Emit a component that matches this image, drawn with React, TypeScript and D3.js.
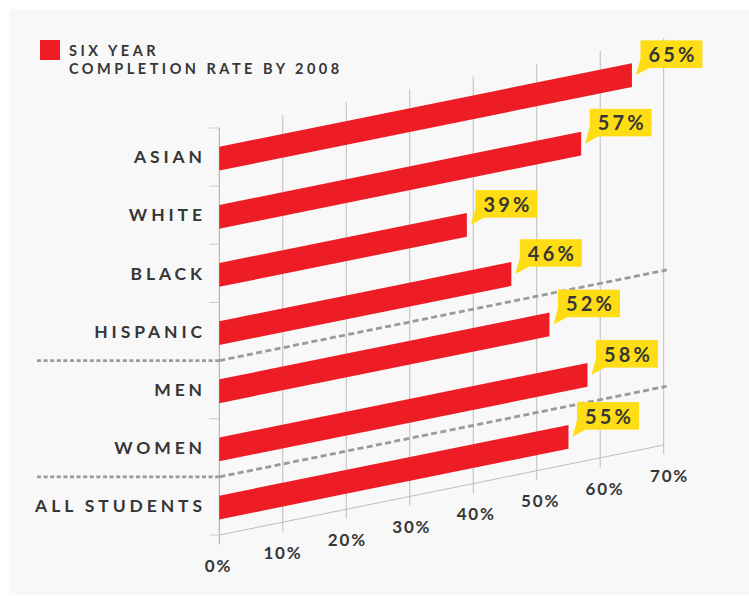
import React from 'react';
import * as d3 from 'd3';

const categories = ['ASIAN', 'WHITE', 'BLACK', 'HISPANIC', 'MEN', 'WOMEN', 'ALL STUDENTS'];
const rates = [65, 57, 39, 46, 52, 58, 55];
const ticks = [0, 10, 20, 30, 40, 50, 60, 70];
// dashed separators sit above these categories
const groupStarts = ['MEN', 'ALL STUDENTS'];
const legendLines = ['SIX YEAR', 'COMPLETION RATE BY 2008'];

const RED = '#ee1d25';
const YELLOW = '#ffdd15';
const INK = '#363636';
const GRID = '#bdbdbd';
const FONT = 'Lato, "Open Sans", sans-serif';

export default function App() {
  const width = 749;
  const height = 596;

  const x = d3.scaleLinear().domain([0, 70]).range([219.3, 663.7]);
  const y = d3.scaleBand<string>().domain(categories).range([128, 535]).padding(0);
  // tick labels drift slightly right of their gridlines in the original
  const xLabel = d3.scaleLinear().domain([0, 70]).range([217.5, 668.5]);

  const x0 = x(0);
  const k = 90 / (x(70) - x0); // upward shear per px
  const lift = (px: number) => k * (px - x0);
  const top = y.range()[0];
  const base = y.range()[1];

  const barH = 23.8;

  return (
    <svg
      width={width}
      height={height}
      style={{ position: 'absolute', left: 0, top: 0, display: 'block' }}
      fontFamily={FONT}
    >
      <rect x={9} y={9} width={width - 9} height={586} fill="#f8f8f8" />

      {/* legend */}
      <rect x={40} y={40} width={20} height={20} fill={RED} />
      {legendLines.map((t, i) => (
        <text
          key={t}
          x={69}
          y={56 + i * 18}
          fontSize={14.5}
          fontWeight={700}
          letterSpacing={3.5}
          fill={INK}
        >
          {t}
        </text>
      ))}

      {/* gridlines */}
      {ticks.map((t) => {
        const px = x(t);
        return (
          <line
            key={t}
            x1={px}
            x2={px}
            y1={top - lift(px)}
            y2={base - lift(px) + 9.5}
            stroke={t === 0 ? '#a8a8a8' : GRID}
            strokeWidth={1}
          />
        );
      })}
      <line x1={x0} x2={x(70)} y1={base} y2={base - lift(x(70))} stroke={GRID} strokeWidth={1} />

      {/* left ticks */}
      {[...categories.map((c) => y(c) as number), base]
        .filter((v, i) => !groupStarts.includes(categories[i]))
        .map((v) => (
          <line key={v} x1={x0 - 10} x2={x0} y1={v} y2={v} stroke="#cccccc" strokeWidth={1} />
        ))}

      {/* tick labels */}
      {ticks.map((t) => (
        <text
          key={t}
          x={xLabel(t) + 1}
          y={base + 36.7 - lift(x(t))}
          textAnchor="middle"
          fontSize={17}
          fontWeight={700}
          letterSpacing={1.8}
          fill={INK}
        >
          {t}%
        </text>
      ))}

      {/* group separators */}
      {groupStarts.map((c) => {
        const yy = y(c) as number;
        const xe = x(70) + 3;
        return (
          <g key={c} stroke="#9a9a9a" strokeWidth={2.8} fill="none">
            <line x1={37} x2={x0} y1={yy} y2={yy} strokeDasharray="4 2.6" />
            <line x1={x0} x2={xe} y1={yy} y2={yy - lift(xe)} strokeDasharray="6 3.4" />
          </g>
        );
      })}

      {/* bars */}
      {categories.map((c, i) => {
        const cy = (y(c) as number) + y.bandwidth() / 2;
        const xe = x(rates[i]);
        const t0 = cy - 10.3;
        const b0 = t0 + barH;
        const d = `M${x0},${t0}L${xe},${t0 - lift(xe)}L${xe},${b0 - lift(xe)}L${x0},${b0}Z`;
        return <path key={c} d={d} fill={RED} />;
      })}

      {/* category labels */}
      {categories.map((c) => (
        <text
          key={c}
          x={206}
          y={(y(c) as number) + y.bandwidth() / 2 + 6.2}
          textAnchor="end"
          fontSize={17.5}
          fontWeight={700}
          letterSpacing={3.9}
          fill={INK}
        >
          {c}
        </text>
      ))}

      {/* value callouts */}
      {categories.map((c, i) => {
        const cy = (y(c) as number) + y.bandwidth() / 2;
        const xe = x(rates[i]);
        const ce = cy - 10.3 + barH / 2 - lift(xe);
        const rx = xe + 8.5;
        const rb = ce - 7.2;
        const rh = 27.5;
        const rw = 62;
        return (
          <g key={c}>
            <path d={`M${rx},${rb - 9}L${rx + 9},${rb}L${xe + 4},${ce}Z`} fill={YELLOW} />
            <rect x={rx} y={rb - rh} width={rw} height={rh} fill={YELLOW} />
            <text
              x={rx + rw / 2 + 1.6}
              y={rb - 6}
              textAnchor="middle"
              fontSize={20}
              fontWeight={700}
              letterSpacing={3.2}
              fill={INK}
            >
              {rates[i]}%
            </text>
          </g>
        );
      })}
    </svg>
  );
}
